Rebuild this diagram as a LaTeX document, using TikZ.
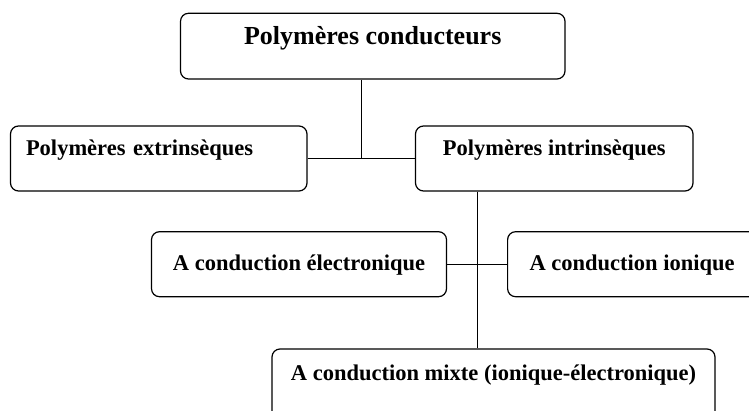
\documentclass[tikz,border=0pt]{standalone}
\usepackage{fontspec}
\setmainfont{Liberation Serif}
\usetikzlibrary{calc}

\tikzset{
  box/.style={draw, line width=1.2pt, rounded corners=8pt, inner xsep=0pt, inner ysep=0pt,
    anchor=base, font=\bfseries\fontsize{22.5}{27}\selectfont},
  link/.style={line width=0.9pt}
}

\begin{document}
\begin{tikzpicture}[x=1pt, y=-1pt]
\useasboundingbox (0,0) rectangle (749,411);
\clip (0,0) rectangle (749,411);

\node[box, minimum width=384.5pt, text height=31.7pt, text depth=34pt,
  font=\bfseries\fontsize{26}{31}\selectfont] (root) at (372.75,45) {Polymères conducteurs};

\node[box, text width=265.5pt, align=left, inner xsep=15.5pt, text height=30pt, text depth=35pt] (extr) at (158.75,156) {Polymères extrinsèques};
\node[box, minimum width=277.5pt, text height=30pt, text depth=35pt] (intr) at (554.25,156) {Polymères intrinsèques};

\node[box, minimum width=295pt, text height=39.3pt, text depth=25.7pt] (elec) at (299,271) {A conduction électronique};
\node[box, minimum width=249pt, text height=39.3pt, text depth=25.7pt] (ion) at (632.1,271) {A conduction ionique};

\node[box, minimum width=443pt, text height=31pt, text depth=40pt] (mixte) at (493.5,380) {A conduction mixte (ionique-électronique)};

\coordinate (j1) at ($(extr.east)!0.5!(intr.west)$);
\coordinate (j2) at ($(elec.east)!0.5!(ion.west)$);

\draw[link] (extr.east) -- (intr.west);
\draw[link] (j1) -- (j1 |- root.south);
\draw[link] (elec.east) -- (ion.west);
\draw[link] (j2 |- intr.south) -- (j2 |- mixte.north);

\end{tikzpicture}
\end{document}
